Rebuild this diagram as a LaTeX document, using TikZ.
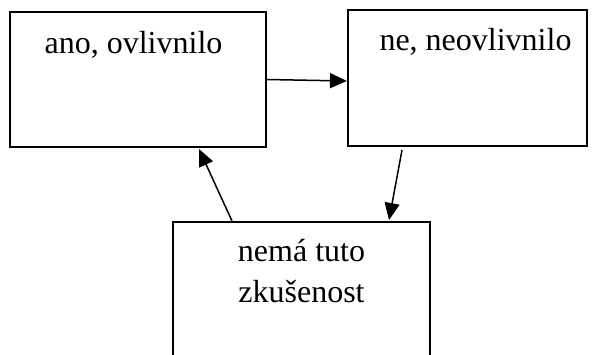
\documentclass[tikz,border=0pt]{standalone}
\usepackage{fontspec}
\setmainfont{Liberation Serif}
\usetikzlibrary{arrows.meta,calc}
\begin{document}
\begin{tikzpicture}[x=1pt,y=-1pt,
  box/.style={draw,line width=2pt,rectangle,inner sep=0pt},
  lbl/.style={font=\fontsize{32}{39}\selectfont,inner sep=0pt,anchor=base,align=center},
  link/.style={line width=1.5pt,-{Triangle[length=17pt,width=15pt]}}]
\useasboundingbox (0,0) rectangle (596,354);
% the three boxes
\node[box,minimum width=256pt,minimum height=135pt] (b1) at (138,79.5) {};
\node[box,minimum width=239pt,minimum height=136pt] (b2) at (467.5,78) {};
\node[box,minimum width=257pt,minimum height=178pt] (b3) at (301.5,311) {};
% their texts
\node[lbl] (t1) at (133.5,53) {ano, ovlivnilo};
\node[lbl] (t2) at (475.5,50) {ne, neovlivnilo};
\node[lbl] (t3a) at (301.5,261) {nemá tuto};
\node[lbl] (t3b) at (301.5,302) {zkušenost};
% connectors
\draw[link] (b1.east) -- ($(b2.west)+(0,3)$);
\draw[link] ($(b2.south west)+(55,3)$) -- ($(b3.north west)+(217,-1)$);
\draw[link] ($(b3.north west)+(60,0)$) -- ($(b1.south west)+(190,1)$);
\end{tikzpicture}
\end{document}
